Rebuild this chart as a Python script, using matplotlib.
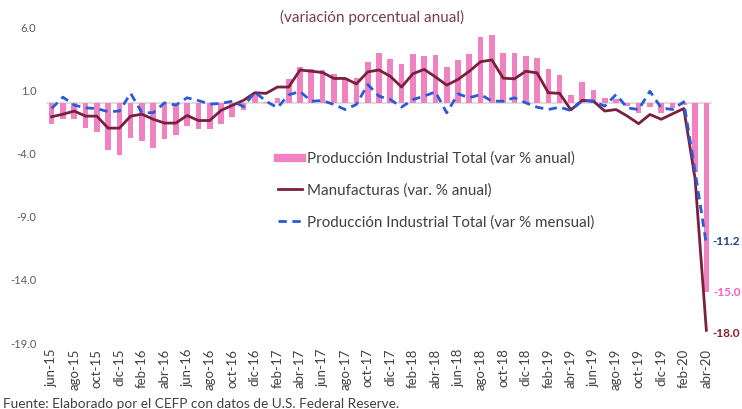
import matplotlib
matplotlib.use("Agg")
import matplotlib.pyplot as plt
from matplotlib.lines import Line2D
import numpy as np

plt.rcParams['font.family'] = ['Lato', 'DejaVu Sans']

months = ["jun-15", "jul-15", "ago-15", "sep-15", "oct-15", "nov-15", "dic-15", "ene-16",
          "feb-16", "mar-16", "abr-16", "may-16", "jun-16", "jul-16", "ago-16", "sep-16",
          "oct-16", "nov-16", "dic-16", "ene-17", "feb-17", "mar-17", "abr-17", "may-17",
          "jun-17", "jul-17", "ago-17", "sep-17", "oct-17", "nov-17", "dic-17", "ene-18",
          "feb-18", "mar-18", "abr-18", "may-18", "jun-18", "jul-18", "ago-18", "sep-18",
          "oct-18", "nov-18", "dic-18", "ene-19", "feb-19", "mar-19", "abr-19", "may-19",
          "jun-19", "jul-19", "ago-19", "sep-19", "oct-19", "nov-19", "dic-19", "ene-20",
          "feb-20", "mar-20", "abr-20"]

# Producción Industrial Total (var % anual) - bars
pi_anual = [-1.65, -1.25, -1.3, -2.0, -2.3, -3.7, -4.1, -2.8, -3.0, -3.55,
            -2.9, -2.55, -1.8, -2.1, -2.05, -1.65, -1.1, -0.6, 0.8, 0.05,
            0.35, 1.85, 2.85, 2.65, 2.6, 2.3, 1.95, 1.95, 3.25, 3.95,
            3.45, 3.1, 3.85, 3.7, 3.75, 2.8, 3.4, 3.9, 5.2, 5.35,
            3.95, 3.95, 3.7, 3.55, 2.65, 2.2, 0.65, 1.65, 1.0, 0.35,
            0.3, -0.25, -0.8, -0.35, -0.8, -0.4, -0.2, -5.5, -15.0]

# Manufacturas (var. % anual) - solid line
manuf = [-1.1, -0.9, -0.65, -1.05, -1.05, -2.0, -2.0, -1.05, -0.9, -1.3,
         -1.6, -1.6, -1.0, -1.4, -1.4, -0.6, -0.2, 0.2, 0.8, 0.75,
         1.25, 1.25, 2.6, 2.5, 2.4, 1.93, 1.93, 1.5, 2.45, 2.6,
         2.1, 1.25, 2.3, 2.65, 2.05, 1.4, 1.85, 2.5, 3.25, 3.4,
         1.95, 1.9, 2.5, 2.37, 0.8, 0.75, -0.55, 0.2, 0.13, -0.65,
         -0.53, -1.05, -1.65, -0.92, -1.3, -0.87, -0.45, -6.0, -18.0]

# Producción Industrial Total (var % mensual) - dashed line
pi_mensual = [-0.45, 0.45, -0.18, -0.4, -0.45, -0.7, -0.65, 0.75, -0.78, -0.78,
              0.0, -0.18, 0.4, 0.18, -0.1, -0.05, 0.13, -0.3, 0.85, 0.13,
              -0.38, 0.63, 0.9, 0.13, 0.18, -0.13, -0.53, -0.13, 1.45, 0.53,
              0.26, -0.34, 0.26, 0.53, 0.87, -0.79, 0.71, 0.4, 0.66, 0.13,
              0.13, 0.4, 0.0, -0.34, -0.53, -0.34, -0.61, 0.18, 0.13, -0.26,
              0.66, -0.4, -0.53, 0.92, -0.4, -0.53, 0.08, -5.4, -11.2]

yticks = [6.0, 1.0, -4.0, -9.0, -14.0, -19.0]

c_bar = '#F082C2'
c_man = '#7A1F3D'
c_blue = '#2A5BD7'

fig = plt.figure(figsize=(7.42, 4.09), dpi=100)
ax = fig.add_axes([46/742, 1 - 343/409, 666/742, 316/409])

x = np.arange(len(months))
ax.axhline(0, color='#D9D9D9', lw=1.2, zorder=1)
ax.bar(x, pi_anual, width=0.5, color=c_bar, zorder=2)
ax.plot(x, manuf, color=c_man, lw=2.0, zorder=3)
ax.plot(x, pi_mensual, color=c_blue, lw=2.0, ls=(0, (3, 2)), zorder=4)

ax.set_xlim(-0.5, len(months) - 0.5)
ax.set_ylim(-19, 6)
ax.set_yticks(yticks)
ax.set_yticklabels([f"{v:.1f}" for v in yticks], fontsize=8, color='#595959')
ax.set_xticks(x[::2])
ax.set_xticklabels(months[::2], rotation=90, fontsize=9.5, color='#404040')
ax.tick_params(length=0, pad=4)
ax.tick_params(axis='y', pad=7)
for s in ax.spines.values():
    s.set_visible(False)

# End labels
ax.annotate(f"{pi_mensual[-1]:.1f}", (x[-1], pi_mensual[-1]), xytext=(4, 2),
            textcoords='offset points', ha='left', va='center', fontsize=8.5,
            fontweight='bold', color='#1F3E8C')
ax.annotate(f"{pi_anual[-1]:.1f}", (x[-1], pi_anual[-1]), xytext=(5, 0),
            textcoords='offset points', ha='left', va='center', fontsize=8.5,
            fontweight='bold', color='#FF5CC8')
ax.annotate(f"{manuf[-1]:.1f}", (x[-1], manuf[-1]), xytext=(4, -2),
            textcoords='offset points', ha='left', va='center', fontsize=8.5,
            fontweight='bold', color='#8B1A2B')

handles = [Line2D([], [], color=c_bar, lw=6),
           Line2D([], [], color=c_man, lw=2.0),
           Line2D([], [], color=c_blue, lw=2.0, ls=(0, (3, 2)))]
labels = ["Producción Industrial Total (var % anual)",
          "Manufacturas (var. % anual)",
          "Producción Industrial Total (var % mensual)"]
leg = fig.legend(handles, labels, loc='upper left', bbox_to_anchor=(264/742, 1 - 138/409),
                 frameon=False, fontsize=10.9, handlelength=1.6, handletextpad=0.35,
                 labelspacing=1.15, borderpad=0.4)
for t in leg.get_texts():
    t.set_color('#404040')

fig.text(372/742, 1 - 17/409, "(variación porcentual anual)", ha='center', va='center',
         fontsize=11, color='#7A3A52')
fig.text(3/742, 1 - 404/409, "Fuente: Elaborado por el CEFP con datos de U.S. Federal Reserve.",
         ha='left', va='center', fontsize=9.8, color='#404040')

fig.savefig("out.png", dpi=100)
